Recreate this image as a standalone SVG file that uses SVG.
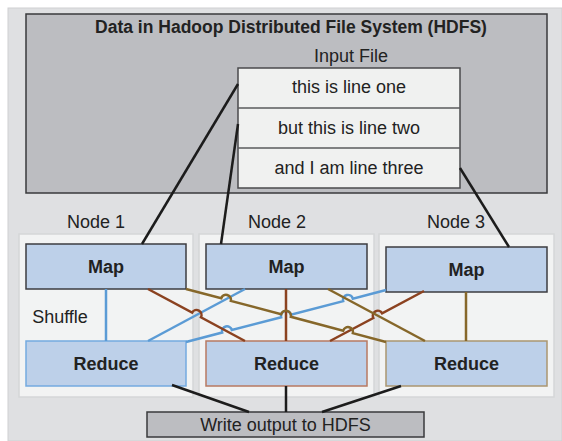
<svg xmlns="http://www.w3.org/2000/svg" width="562" height="441" viewBox="0 0 562 441">
  <style>
    text { font-family: "Liberation Sans", Arial, sans-serif; fill: #222; text-anchor: middle; }
    .t { font-size: 18px; }
    .b { font-size: 18px; font-weight: bold; }
    .title { font-size: 17.5px; font-weight: bold; }
    .panel { fill: #f2f3f3; stroke: #d5d6d8; stroke-width: 1.5; }
    .map { fill: #bdd0e9; stroke: #3c3c40; stroke-width: 1.5; }
    .red { fill: #bdd0e9; stroke-width: 1.5; }
    .gray { fill: #bcbdc1; stroke: #3a3a3c; stroke-width: 1.5; }
    .k { stroke: #1c1c1c; stroke-width: 2.5; fill: none; }
    .blue { stroke: #5b9bd5; stroke-width: 2.5; fill: none; }
    .brown { stroke: #8b4220; stroke-width: 2.5; fill: none; }
    .olive { stroke: #86672a; stroke-width: 2.5; fill: none; }
  </style>

  <!-- backdrop -->
  <rect x="8" y="8" width="554" height="433" fill="#dfe0e2" stroke="#cfd0d2" stroke-width="1"/>

  <!-- HDFS storage with the input file -->
  <g id="hdfs">
    <rect class="gray" x="26" y="14" width="521" height="179"/>
    <text class="title" x="291" y="33">Data in Hadoop Distributed File System (HDFS)</text>
    <text class="t" x="351" y="62">Input File</text>
  </g>
  <g id="input-file">
    <rect x="238" y="68" width="222" height="120" fill="#f0f1f0" stroke="#4a4a4c" stroke-width="1.5"/>
    <line x1="238" y1="108" x2="460" y2="108" stroke="#5a5a5c" stroke-width="1.5"/>
    <line x1="238" y1="148" x2="460" y2="148" stroke="#5a5a5c" stroke-width="1.5"/>
    <text class="t" x="349" y="93">this is line one</text>
    <text class="t" x="349" y="134">but this is line two</text>
    <text class="t" x="349" y="174">and I am line three</text>
  </g>

  <!-- cluster nodes -->
  <g id="node1">
    <rect class="panel" x="19" y="234" width="174" height="163"/>
    <text class="t" x="96" y="228">Node 1</text>
    <text class="t" x="60" y="323">Shuffle</text>
  </g>
  <g id="node2">
    <rect class="panel" x="199" y="234" width="175" height="163"/>
    <text class="t" x="277" y="228">Node 2</text>
  </g>
  <g id="node3">
    <rect class="panel" x="379" y="234" width="175" height="163"/>
    <text class="t" x="456" y="228">Node 3</text>
  </g>

  <g id="map1">
    <rect class="map" x="26" y="244" width="160" height="45"/>
    <text class="b" x="106" y="273">Map</text>
  </g>
  <g id="map2">
    <rect class="map" x="206" y="244" width="161" height="45"/>
    <text class="b" x="286.5" y="273">Map</text>
  </g>
  <g id="map3">
    <rect class="map" x="386" y="247" width="161" height="45"/>
    <text class="b" x="466.5" y="276">Map</text>
  </g>

  <g id="reduce1">
    <rect class="red" x="26" y="341" width="160" height="45" stroke="#74aae0"/>
    <text class="b" x="106" y="370">Reduce</text>
  </g>
  <g id="reduce2">
    <rect class="red" x="206" y="341" width="161" height="45" stroke="#b87a62"/>
    <text class="b" x="286.5" y="370">Reduce</text>
  </g>
  <g id="reduce3">
    <rect class="red" x="386" y="341" width="161" height="45" stroke="#ab9670"/>
    <text class="b" x="466.5" y="370">Reduce</text>
  </g>

  <g id="write-output">
    <rect class="gray" x="147" y="412" width="277" height="25"/>
    <text class="t" x="285.5" y="431">Write output to HDFS</text>
  </g>

  <g id="connectors">
    <!-- input splits to mappers -->
    <line class="k" x1="238" y1="84" x2="142" y2="244"/>
    <line class="k" x1="238" y1="124" x2="221" y2="244"/>
    <line class="k" x1="460" y1="168" x2="509" y2="247"/>

    <!-- shuffle: blue lines feed reducer 1 -->
    <line class="blue" x1="106" y1="289" x2="106" y2="341"/>
    <line class="blue" x1="148" y1="341" x2="245" y2="289"/>
    <path class="blue" d="M186,342 L222.16,332.56 A5,5 0 0 1 231.84,330.04 L281.16,317.26 A5,5 0 0 1 290.84,314.74 L343.16,301.16 A5,5 0 0 1 352.84,298.64 L386,290"/>

    <!-- brown lines feed reducer 2 -->
    <path class="brown" d="M148,289 L192.09,312.64 A5,5 0 0 1 200.91,317.36 L245,341"/>
    <line class="brown" x1="286" y1="289" x2="286" y2="341"/>
    <path class="brown" d="M330,341 L373.29,317.98 A5,5 0 0 1 382.11,313.28 L424,291"/>

    <!-- olive lines feed reducer 3 -->
    <path class="olive" d="M186,289 L221.17,298.32 A5,5 0 0 1 230.83,300.88 L281.17,314.22 A5,5 0 0 1 290.83,316.78 L343.17,330.65 A5,5 0 0 1 352.83,333.21 L386,342"/>
    <line class="olive" x1="328" y1="289" x2="425" y2="341"/>
    <line class="olive" x1="466" y1="292" x2="466" y2="341"/>

    <!-- reducers to output -->
    <line class="k" x1="172" y1="385" x2="249" y2="412"/>
    <line class="k" x1="286" y1="386" x2="286" y2="412"/>
    <line class="k" x1="401" y1="386" x2="322" y2="412"/>
  </g>
</svg>
